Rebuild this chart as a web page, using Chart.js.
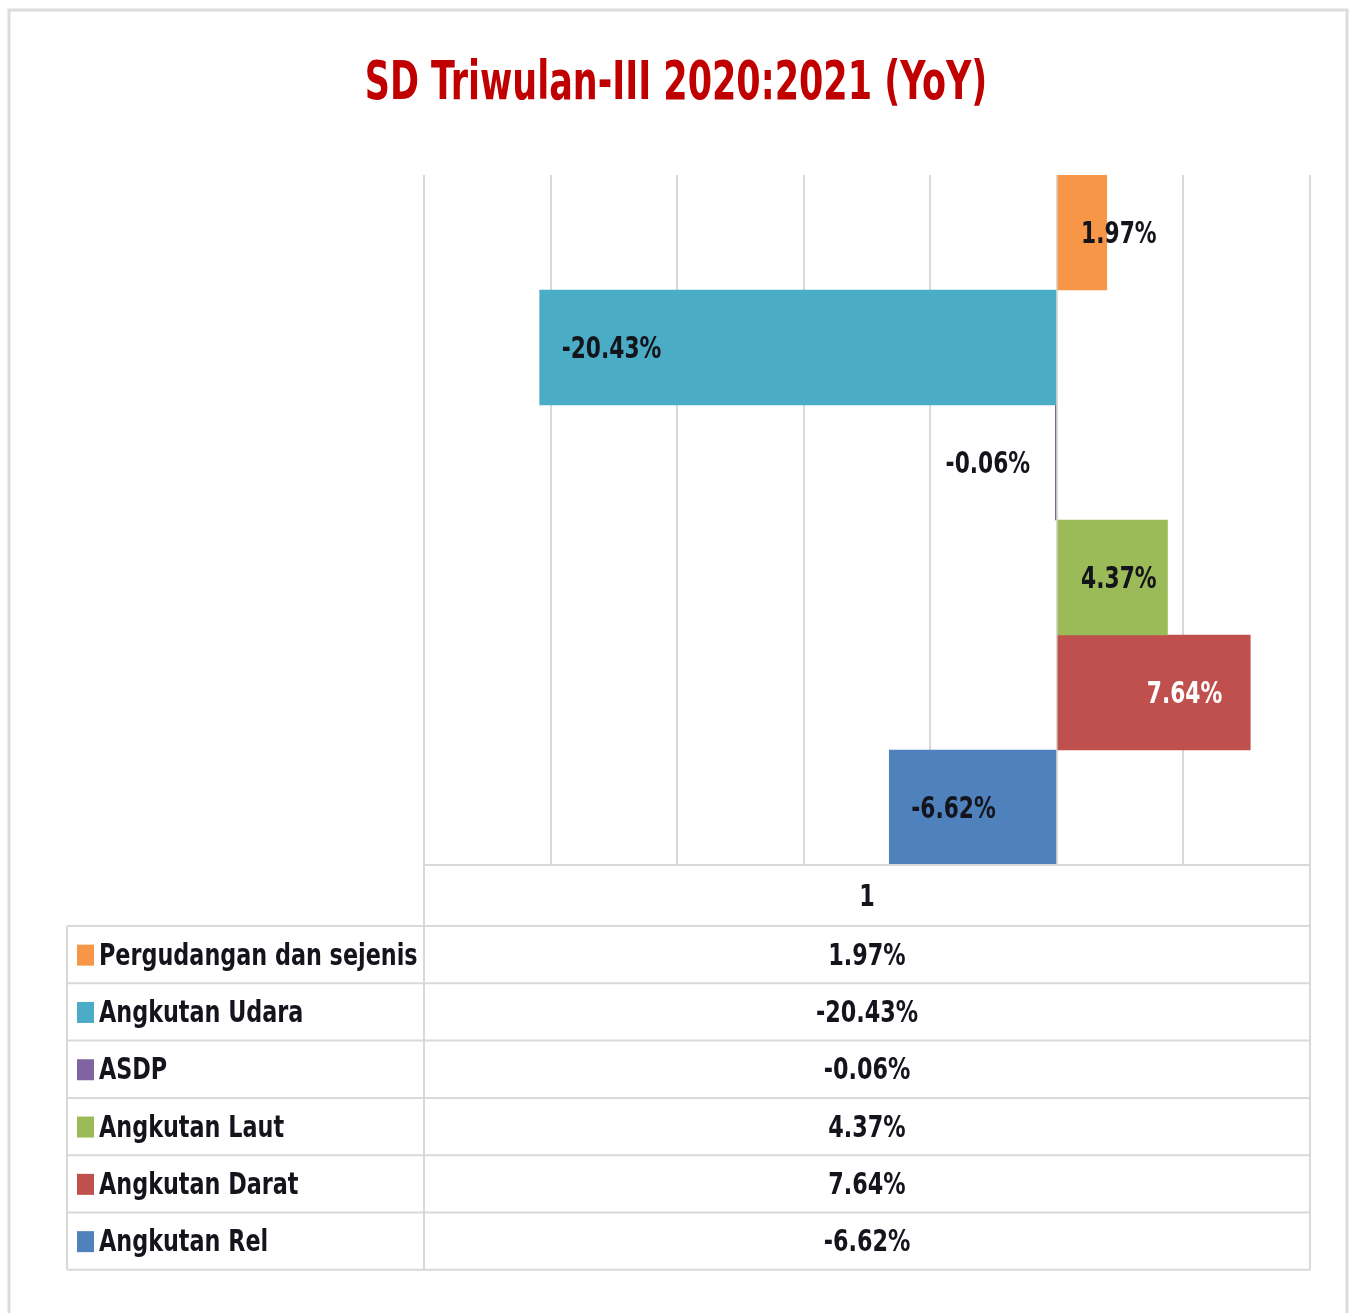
<!DOCTYPE html>
<html>
<head>
<meta charset="utf-8">
<script src="https://cdn.jsdelivr.net/npm/chart.js@4.4.1/dist/chart.umd.min.js"></script>
<style>
html, body { margin:0; padding:0; background:#fff; }
canvas { display:block; }
</style>
</head>
<body>
<canvas id="chart" width="1350" height="1313"></canvas>
<script>
// data
const titleText = 'SD Triwulan-III 2020:2021 (YoY)';
const categories = ['1'];
const seriesNames = ['Pergudangan dan sejenis', 'Angkutan Udara', 'ASDP', 'Angkutan Laut', 'Angkutan Darat', 'Angkutan Rel'];
const seriesValues = [1.97, -20.43, -0.06, 4.37, 7.64, -6.62];
const seriesColors = ['#F79646', '#4BACC6', '#8064A2', '#9BBB59', '#C0504D', '#4F81BD'];
const labelColors = ['#14141c', '#14141c', '#14141c', '#14141c', '#ffffff', '#14141c'];
const axisMin = -25, axisMax = 10, axisStep = 5;

const FONT = "'DejaVu Sans Condensed', 'Liberation Sans', sans-serif";
const GRID = '#D9D9D9';
const INK = '#14141c';
const fmt = v => v.toFixed(2) + '%';

// no narrow font installed, so squeeze the text horizontally to get the Calibri look
const squeezed = (c, txt, x, y, align, sx) => {
	c.save();
	c.translate(x, y);
	c.scale(sx, 1);
	c.textAlign = align;
	c.fillText(txt, 0, 0);
	c.restore();
};

const tablePlugin = {
	id: 'tablePlugin',
	beforeDraw(chart) {
		const c = chart.ctx;
		c.save();
		c.fillStyle = '#fff';
		c.fillRect(0, 0, chart.width, chart.height);
		c.strokeStyle = '#DCDCDC';
		c.lineWidth = 3;
		c.strokeRect(9, 10, 1338, 1330);
		// title
		c.font = 'bold 54px ' + FONT;
		c.fillStyle = '#C00000';
		c.textBaseline = 'alphabetic';
		squeezed(c, titleText, chart.width / 2 + 1, 99, 'center', 0.72);
		c.restore();
	},
	afterDatasetsDraw(chart) {
		const c = chart.ctx;
		const sx = 0.78;
		c.save();
		c.font = 'bold 31px ' + FONT;
		c.textBaseline = 'middle';
		chart.data.datasets.forEach((ds, i) => {
			const bar = chart.getDatasetMeta(i).data[0];
			const txt = fmt(ds.data[0]);
			const w = c.measureText(txt).width * sx;
			let x;
			if (ds.data[0] >= 0) x = Math.max(bar.x - 28 - w / 2, bar.base + 61);
			else x = Math.min(bar.x + 22 + w / 2, bar.base - 68);
			c.fillStyle = labelColors[i];
			squeezed(c, txt, x, bar.y + 2, 'center', sx);
		});
		c.restore();
	},
	afterDraw(chart) {
		const c = chart.ctx;
		const a = chart.chartArea;
		const tableLeft = 67, headH = 61, rowH = 57.3, sx = 0.8;
		const top = a.bottom + headH;
		const bottom = top + rowH * seriesNames.length;
		const mid = (a.left + a.right) / 2;
		c.save();
		c.strokeStyle = GRID;
		c.lineWidth = 2;
		c.beginPath();
		c.moveTo(a.left, a.bottom); c.lineTo(a.right, a.bottom);
		c.moveTo(a.left, a.bottom); c.lineTo(a.left, bottom);
		c.moveTo(a.right, a.bottom); c.lineTo(a.right, bottom);
		c.moveTo(tableLeft, top); c.lineTo(tableLeft, bottom);
		for (let r = 0; r <= seriesNames.length; r++) {
			c.moveTo(tableLeft, top + r * rowH); c.lineTo(a.right, top + r * rowH);
		}
		c.stroke();

		c.font = 'bold 31px ' + FONT;
		c.textBaseline = 'middle';
		c.fillStyle = INK;
		squeezed(c, categories[0], mid, a.bottom + headH / 2 + 2, 'center', sx);
		seriesNames.forEach((name, i) => {
			const y = top + rowH * i + rowH / 2;
			c.fillStyle = seriesColors[i];
			c.fillRect(77, y - 10, 17, 21);
			c.fillStyle = INK;
			squeezed(c, name, 99, y + 2, 'left', sx);
			squeezed(c, fmt(seriesValues[i]), mid, y + 2, 'center', sx);
		});
		c.restore();
	}
};

new Chart(document.getElementById('chart'), {
	type: 'bar',
	data: {
		labels: categories,
		datasets: seriesNames.map((name, i) => ({
			label: name,
			data: [seriesValues[i]],
			backgroundColor: seriesColors[i],
			borderWidth: 0,
			barPercentage: 1,
			categoryPercentage: 1,
		}))
	},
	options: {
		indexAxis: 'y',
		responsive: false,
		animation: false,
		layout: { padding: { left: 424, right: 40, top: 175, bottom: 448 } },
		plugins: {
			legend: { display: false },
			tooltip: { enabled: false },
			title: { display: false }
		},
		scales: {
			x: {
				min: axisMin,
				max: axisMax,
				ticks: { display: false, stepSize: axisStep },
				grid: { color: GRID, lineWidth: 2, drawTicks: false },
				border: { display: false },
				afterFit: s => { s.height = 0; }
			},
			y: { display: false }
		}
	},
	plugins: [tablePlugin]
});
</script>
</body>
</html>
